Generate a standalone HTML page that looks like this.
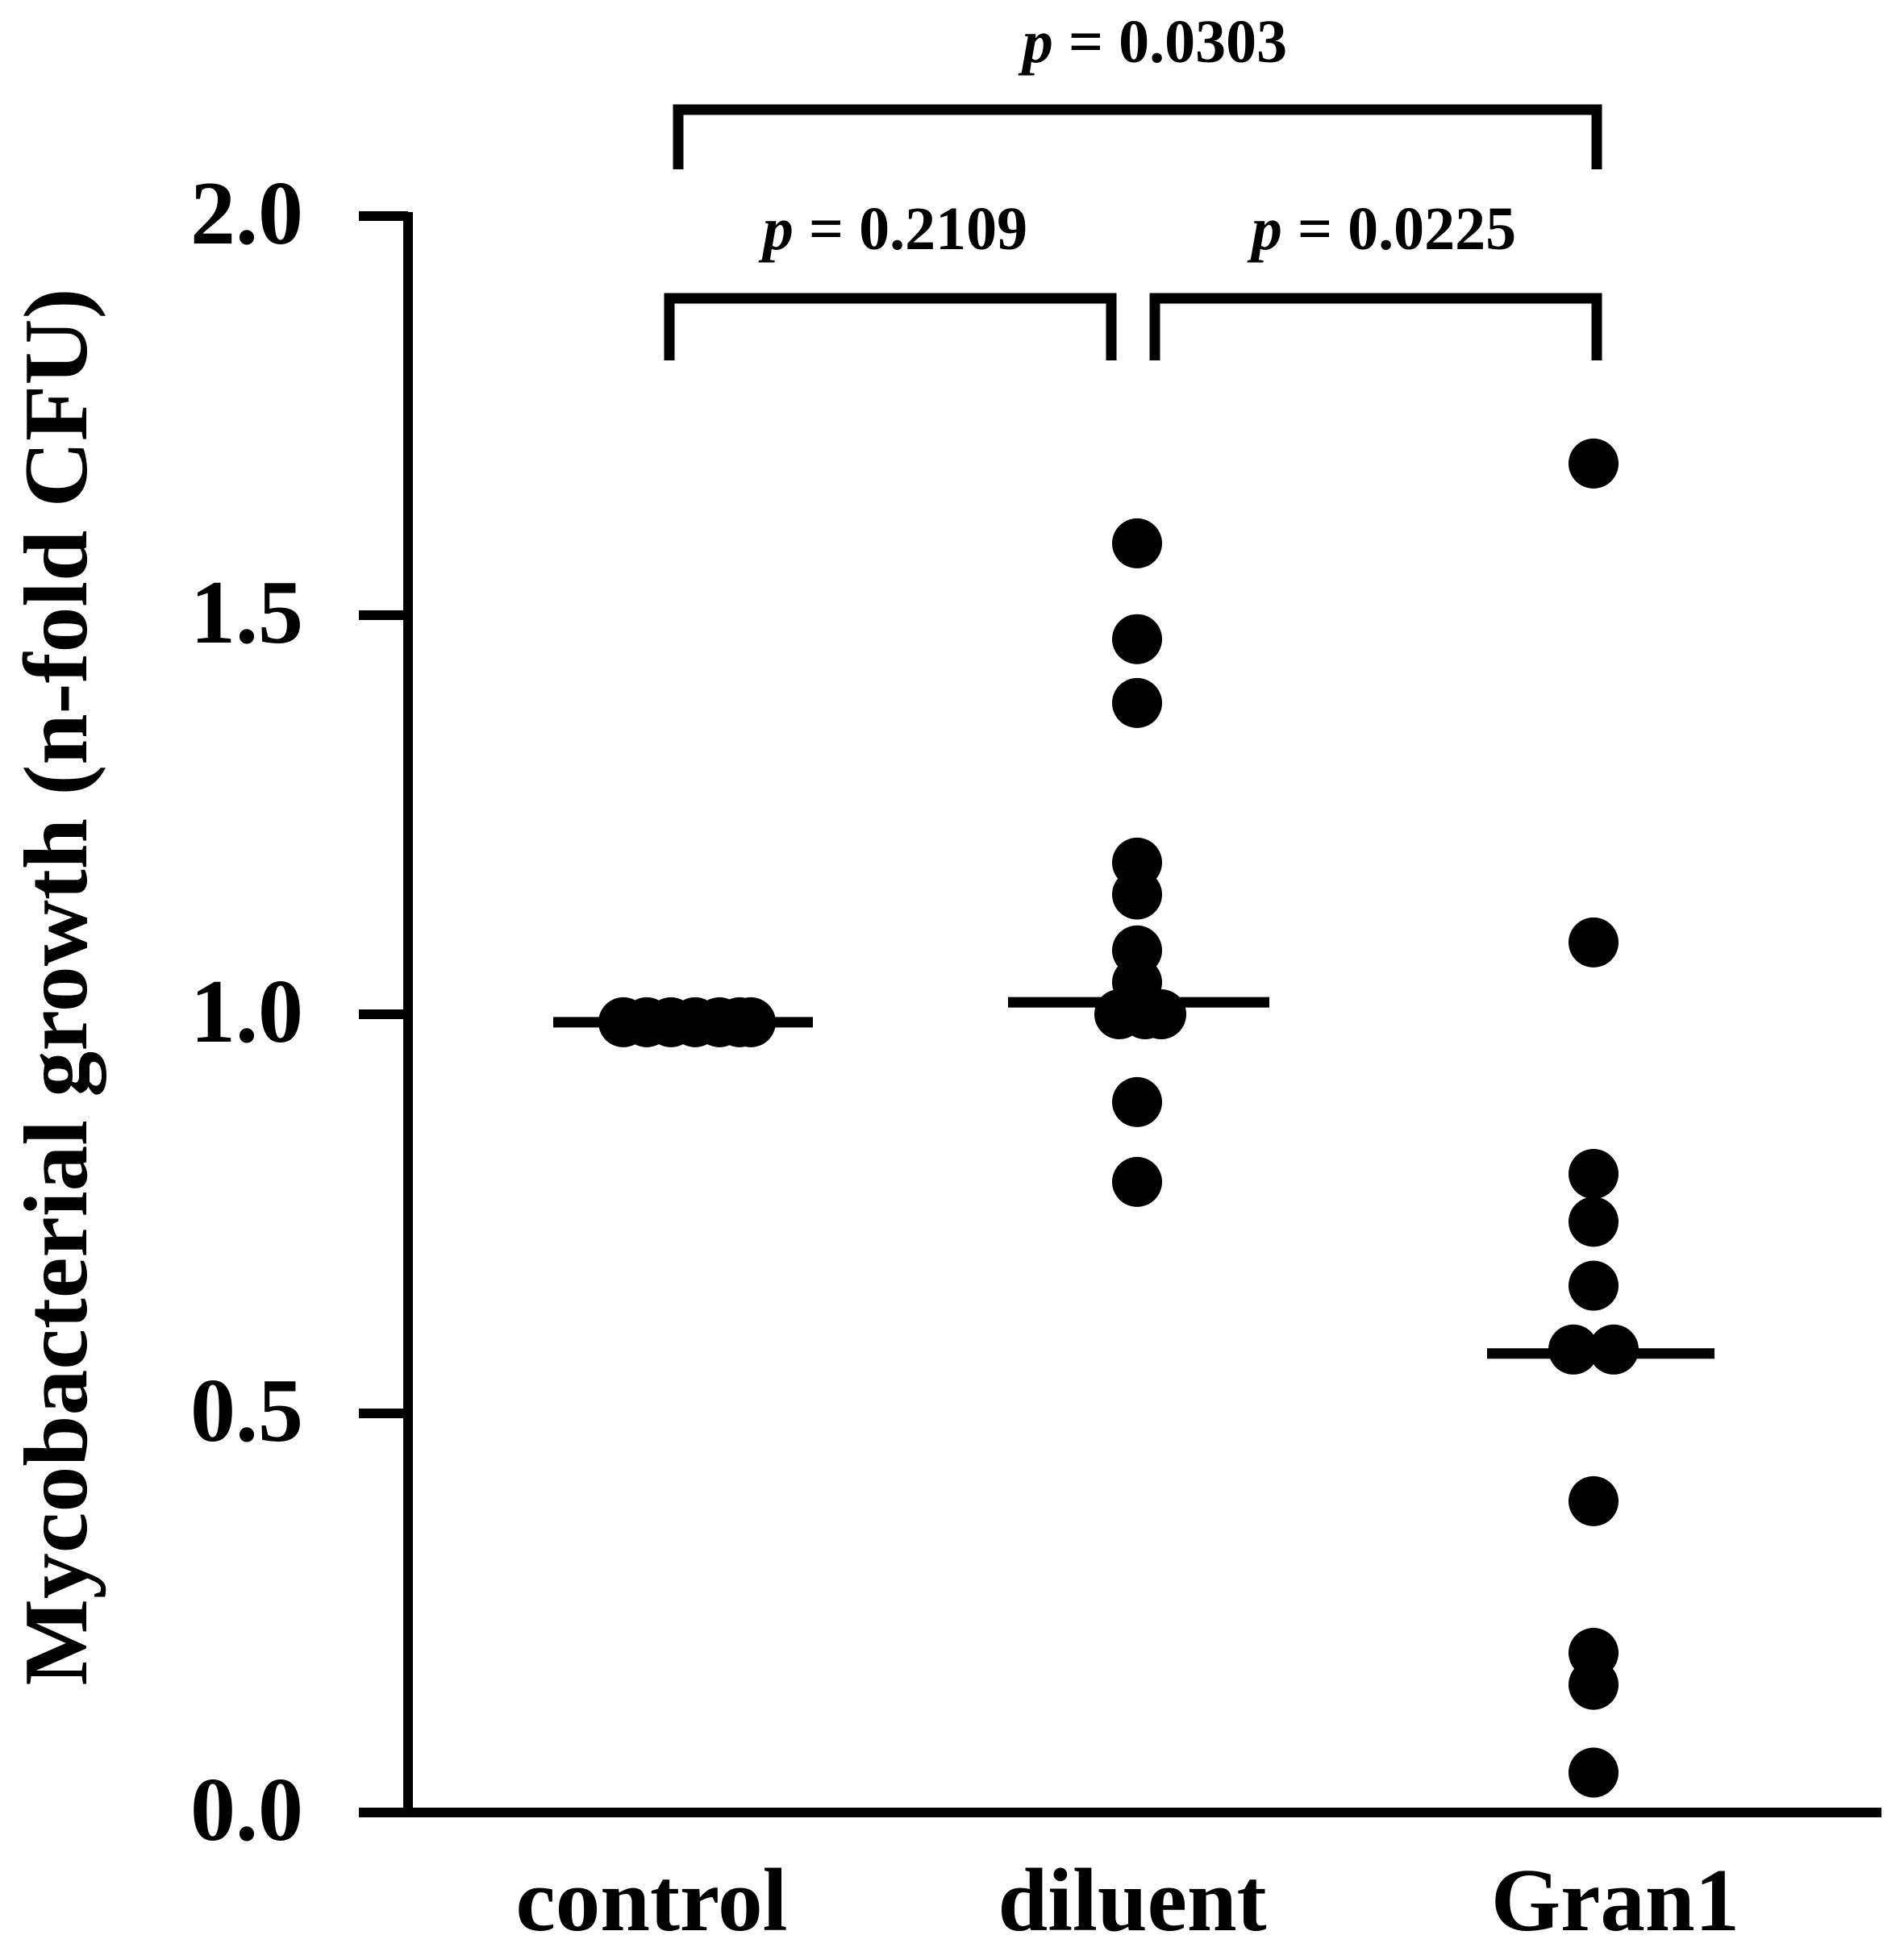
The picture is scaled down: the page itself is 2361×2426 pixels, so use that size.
<!DOCTYPE html>
<html><head><meta charset="utf-8"><style>
html,body{margin:0;padding:0;background:#fff;}
svg{display:block;}
text{font-family:"Liberation Serif",serif;font-weight:bold;fill:#000;}
</style></head><body>
<svg id="chart" width="2361" height="2426" viewBox="0 0 2361 2426" xmlns="http://www.w3.org/2000/svg">
<g id="axes"></g>
<g id="marks"></g>
<g id="annot"></g>
<text transform="translate(107,1224) rotate(-90)" text-anchor="middle" font-size="112" textLength="1733" lengthAdjust="spacingAndGlyphs">Mycobacterial growth (n-fold CFU)</text>
</svg>
<script>
const categories = ["control","diluent","Gran1"];
const controlValues = [0.99,0.99,0.99,0.99,0.99,0.99,0.99];
const diluentValues = [1.59,1.47,1.39,1.19,1.15,1.08,1.04,1.0,1.0,1.0,0.89,0.79];
const gran1Values = [1.69,1.09,0.80,0.74,0.66,0.58,0.58,0.39,0.20,0.16,0.05];
const medians = [0.99,1.015,0.575];
const yTicks = [0.0,0.5,1.0,1.5,2.0];
const yTickLabels = ["0.0","0.5","1.0","1.5","2.0"];
const pLabels = ["0.0303","0.2109","0.0225"];
const comparisons = [[0,2],[0,1],[1,2]];

const NS = "http://www.w3.org/2000/svg";
const Y0 = 2248, Y2 = 268;
function yScale(v){ return Y0 - (v/2.0)*(Y0-Y2); }
const catX = [852, 1410, 1976];
function xScale(i){ return catX[i]; }
function mk(tag, attrs, parent){
  const e = document.createElementNS(NS, tag);
  for (const k in attrs) e.setAttribute(k, attrs[k]);
  parent.appendChild(e); return e;
}
const axes = document.getElementById('axes');
const marks = document.getElementById('marks');
const annot = document.getElementById('annot');

let l = mk('line',{x1:506,y1:Y2-5,x2:506,y2:Y0+6,stroke:'#000','stroke-width':12},axes);


l = mk('line',{x1:447,y1:Y0,x2:2333,y2:Y0,stroke:'#000','stroke-width':12},axes);



yTicks.forEach((v,i)=>{
  const y = yScale(v);
  const t = mk('line',{x1:445,y1:y,x2:506,y2:y,stroke:'#000','stroke-width':12},axes);
  
  
  const tx = mk('text',{x:376,y:y+34,'text-anchor':'end','font-size':112},axes);
  
  
  tx.textContent = yTickLabels[i];
});

const catLabelX = [808, 1404, 2003];
categories.forEach((c,i)=>{
  const tx = mk('text',{x:catLabelX[i],y:2394,'text-anchor':'middle','font-size':111},axes);
  
  
  tx.textContent = c;
});

const R = 31;
const offsets = [
  [-79,-50,-20,10,40,65,79],
  [0,0,0,0,0,0,0,-22,10,30,0,0],
  [0,0,0,0,0,-25,25,0,0,0,0]
];
const series = [controlValues, diluentValues, gran1Values];
series.forEach((vals,si)=>{
  vals.forEach((v,j)=>{
    const c = mk('circle',{cx:xScale(si)+(offsets[si][j]||0),cy:yScale(v),r:R,fill:'#000'},marks);
    
    
  });
});
const halfW = [161, 162, 141];
const lineShift = [-5, 2, 9];
medians.forEach((m,i)=>{
  const y = yScale(m);
  const cx = xScale(i) + lineShift[i];
  const ln = mk('line',{x1:cx-halfW[i],y1:y,x2:cx+halfW[i],y2:y,stroke:'#000','stroke-width':13},marks);
  
  
});

const brk = [
  {x1:841,x2:1980,top:136,bot:210,ty:77,tc:1432},
  {x1:830,x2:1378,top:370,bot:447,ty:309,tc:1110},
  {x1:1432,x2:1980,top:370,bot:447,ty:309,tc:1716}
];
comparisons.forEach((cmp,i)=>{
  const b = brk[i];
  const p = mk('path',{d:`M${b.x1},${b.bot} V${b.top} H${b.x2} V${b.bot}`,fill:'none',stroke:'#000','stroke-width':13},annot);
  
  
  const t = mk('text',{x:b.tc,y:b.ty,'text-anchor':'middle','font-size':76},annot);
  
  
  const ts = mk('tspan',{'font-style':'italic'},t);
  ts.textContent = 'p';
  t.appendChild(document.createTextNode(' = ' + pLabels[i]));
});
</script>
</body></html>
